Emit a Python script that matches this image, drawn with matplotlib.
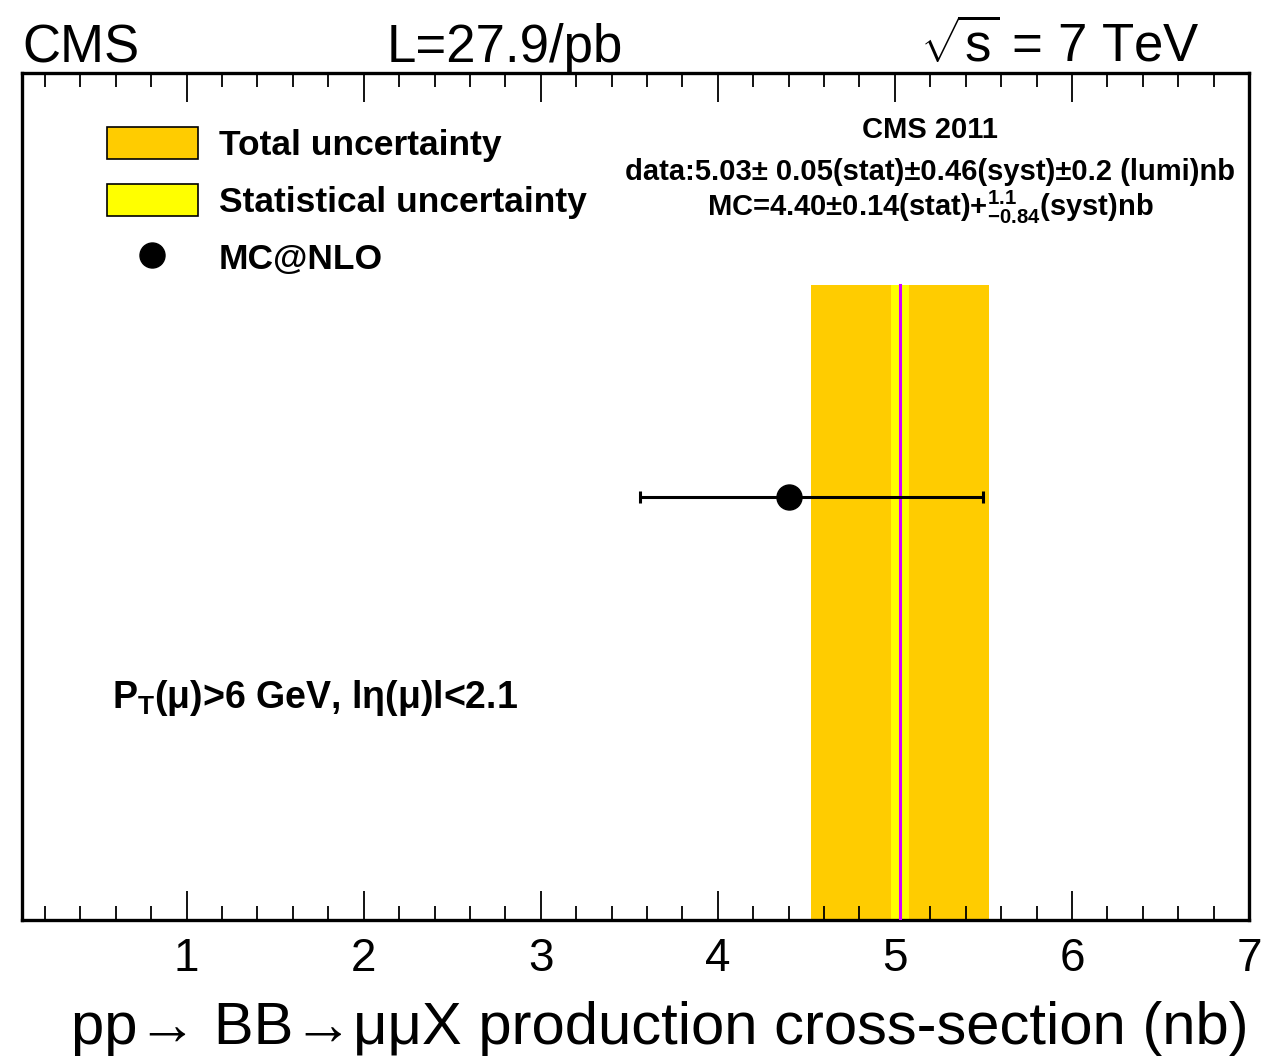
import numpy as np
import matplotlib
matplotlib.use("Agg")
import matplotlib.pyplot as plt
from matplotlib.patches import Patch
from matplotlib.lines import Line2D
from matplotlib.ticker import MultipleLocator

plt.rcParams['font.family'] = ['Liberation Sans', 'DejaVu Sans']
plt.rcParams['mathtext.fontset'] = 'custom'
plt.rcParams['mathtext.rm'] = 'Liberation Sans'
plt.rcParams['mathtext.bf'] = 'Liberation Sans:bold'
plt.rcParams['mathtext.it'] = 'Liberation Sans:italic'

# measured cross-section (nb) and its uncertainties
data_xsec = 5.03
data_stat = 0.05
data_syst = 0.46
data_lumi = 0.2
data_total = np.sqrt(data_stat**2 + data_syst**2 + data_lumi**2)

# MC@NLO prediction (nb)
mc_xsec = [4.40]
mc_err_up = [1.1]
mc_err_down = [0.84]
mc_y = [0.5]

band_top = 0.75

fig = plt.figure(figsize=(12.69, 10.60), dpi=100)
ax = fig.add_axes([0.01734, 0.13208, 0.9669, 0.79902])

ax.axvspan(data_xsec - data_total, data_xsec + data_total, ymin=0, ymax=band_top,
           color='#ffcc00', lw=0, zorder=1)
ax.axvspan(data_xsec - data_stat, data_xsec + data_stat, ymin=0, ymax=band_top,
           color='#ffff00', lw=0, zorder=2)
ax.plot([data_xsec, data_xsec], [0, band_top], color='#d000ff', lw=2.2, zorder=3)

ax.errorbar(mc_xsec, mc_y, xerr=[mc_err_down, mc_err_up], fmt='o', color='black',
            ms=18, elinewidth=2.2, capsize=4, capthick=2.2, zorder=5)

ax.set_xlim(0.07, 7)
ax.set_ylim(0, 1)
ax.set_yticks([])
ax.xaxis.set_major_locator(MultipleLocator(1))
ax.xaxis.set_minor_locator(MultipleLocator(0.2))
ax.tick_params(axis='x', which='both', direction='in', top=True, bottom=True,
               width=1.3, labelsize=33, pad=12)
ax.tick_params(axis='x', which='major', length=21)
ax.tick_params(axis='x', which='minor', length=10)
ax.set_xticks([1, 2, 3, 4, 5, 6, 7])
for sp in ax.spines.values():
    sp.set_linewidth(2.4)

ax.set_xlabel("pp→ BB→μμX production cross-section (nb)",
              fontsize=43, loc='right', labelpad=15)

# header line above the frame
fig.text(0.0173, 0.9415, "CMS", fontsize=38, va='baseline', ha='left')
fig.text(0.398, 0.9415, "L=27.9/pb", fontsize=38, va='baseline', ha='center')
fig.text(0.9456, 0.9415, r"$\sqrt{\mathrm{s}}$ = 7 TeV", fontsize=38, va='baseline', ha='right')

handles = [Patch(facecolor='#ffcc00', edgecolor='black', lw=1.2),
           Patch(facecolor='#ffff00', edgecolor='black', lw=1.2),
           Line2D([], [], marker='o', ls='none', color='black', ms=18)]
labels = ["Total uncertainty", "Statistical uncertainty", "MC@NLO"]
leg = ax.legend(handles, labels, loc='upper left', bbox_to_anchor=(0.069, 0.936),
                frameon=False, prop={'weight': 'bold', 'size': 25.5},
                handlelength=2.57, handleheight=1.0, handletextpad=0.6,
                labelspacing=0.62, borderaxespad=0, borderpad=0)

ax.text(5.2, 0.923, "CMS 2011", fontsize=21, fontweight='bold',
        ha='center', va='baseline')
ax.text(5.2, 0.874, "data:5.03± 0.05(stat)±0.46(syst)±0.2 (lumi)nb", fontsize=21,
        fontweight='bold', ha='center', va='baseline')
ax.text(5.2, 0.831, r"MC=4.40±0.14(stat)+$^{\mathbf{1.1}}_{\mathbf{-0.84}}$(syst)nb",
        fontsize=21, fontweight='bold', ha='center', va='baseline')

ax.text(0.576, 0.25, r"P$_\mathbf{T}$(μ)>6 GeV, lη(μ)l<2.1", fontsize=27,
        fontweight='bold', ha='left', va='baseline')

fig.savefig("out.png", dpi=100)
